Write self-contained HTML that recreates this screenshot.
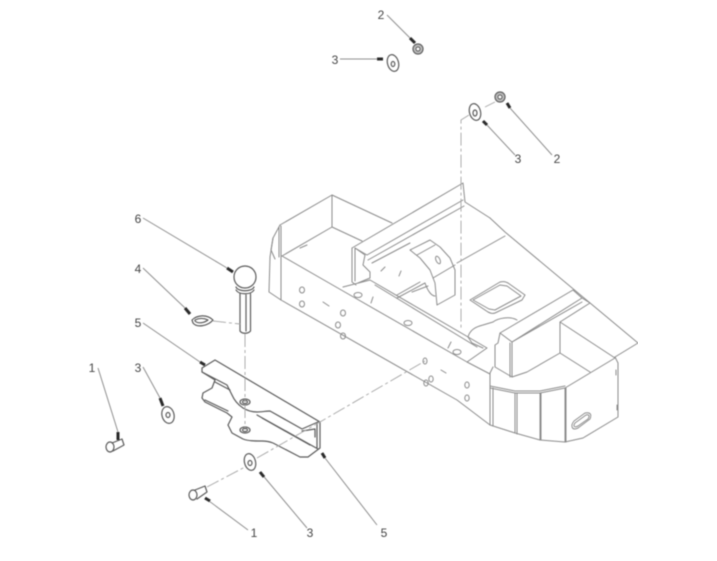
<!DOCTYPE html>
<html><head><meta charset="utf-8"><style>
html,body{margin:0;padding:0;background:#fff}
svg{display:block}
text{font-family:"Liberation Sans",sans-serif;font-size:12px;fill:#444;text-anchor:middle}
.a{fill:none;stroke:#8c8c8c;stroke-width:1;stroke-linejoin:round;stroke-linecap:round}
.b{fill:none;stroke:#5c5c5c;stroke-width:1.2;stroke-linejoin:round;stroke-linecap:round}
.l{fill:none;stroke:#8f8f8f;stroke-width:1}
.d{fill:none;stroke:#a5a5a5;stroke-width:.9;stroke-dasharray:13 3 3 3}
.h{stroke:#2c2c2c;stroke-width:3;fill:none}
</style></head><body>
<svg width="717" height="561" viewBox="0 0 717 561" xmlns="http://www.w3.org/2000/svg">
<defs><filter id="f" x="0" y="0" width="100%" height="100%"><feGaussianBlur stdDeviation=".45"/></filter></defs>
<rect width="717" height="561" fill="#fff"/>
<g filter="url(#f)">
<g class="a">
<!-- left box -->
<path d="M280 225L332 195L392 223"/>
<path d="M332 195V227M282 256L332 227L362 241"/>
<path d="M281 226V256M279 227V257"/>
<path d="M280 225L273 238L270 257L269 292L281 300V256"/>
<path d="M273 238L271 250L275 259"/>
<path d="M282 256L343 291L467 362L490 374"/>
<path d="M281 300L457 400L490 425"/>
<path d="M343 287L370 280L487 348L467 362"/>
<path d="M375 285L477 347"/>
<!-- channel -->
<path d="M352 248L463 183L465 202L490 218"/>
<path d="M355 248L367 255L463 200"/>
<path d="M368 260L464 206M372 263L410 243M457 263L505 236"/>
<path d="M397 295L420 282M397 298L425 283"/>
<path d="M352 248V282L356 285M355 248V281"/>
<path d="M355 248L365 255L363 265L370 272V278L358 283"/>
<!-- hump -->
<path d="M410 250L430 240L440 247L450 258L455 270V295L437 305L435 283L430 270L420 258Z"/>
<path d="M417 255L435 245M433 278L455 265"/>
<path d="M425 283C428 292 432 296 435 296M412 292L428 286"/>
<ellipse cx="438" cy="260" rx="2" ry="4" transform="rotate(-25 438 260)"/>
<!-- plate -->
<path d="M490 218L505 232L638 343L615 357"/>
<path d="M470 300L500 282C504 281 506 282 508 283L525 295L522 300L495 313C492 314 490 313 488 312Z"/>
<path d="M473 300L500 285L507 286L521 296L495 310L489 309Z"/>
<path d="M468 337C470 330 475 327 483 325L493 322C498 318 510 316 517 320"/>
<path d="M468 337L472 343L483 348"/>
<!-- ridge -->
<path d="M500 333L573 290L582 298L512 342Z"/>
<path d="M512 342L582 302"/>
<path d="M582 298L590 303L560 322"/>
<path d="M500 333L498 343L495 345V367L512 377V342"/>
<path d="M510 343V377"/>
<path d="M512 377L527 372L560 353L590 372"/>
<path d="M560 322V353"/>
<path d="M560 322L615 358"/>
<!-- front -->
<path d="M493 367L490 373V425"/>
<path d="M490 388L515 393H540L565 388L615 358"/>
<path d="M490 386L515 391H540L565 386"/>
<path d="M493 388V426M515 393V433M517 393V434M540 393V440M541 393V440M565 388V442M566 388V442"/>
<path d="M490 425L515 433L540 440L565 442L583 438L618 417V363L615 357"/>
<path d="M616 370V375M617 405V410"/>
<path d="M574 421L585 413C590 412 592 414 590 419L578 428C572 431 570 426 574 421Z"/>
<path d="M575 423L586 415C589 414 590 416 588 419L578 426C574 428 573 426 575 423Z"/>
<!-- holes -->
<ellipse cx="302" cy="290" rx="2.5" ry="3"/><ellipse cx="302" cy="304" rx="2.5" ry="3"/>
<ellipse cx="343" cy="313" rx="2.5" ry="3"/><ellipse cx="338" cy="325" rx="2.5" ry="3"/><ellipse cx="343" cy="336" rx="2.5" ry="3"/>
<path d="M323 302L329 306M441 370L446 373"/>
<ellipse cx="358" cy="295" rx="4" ry="2.5"/><ellipse cx="408" cy="323" rx="4" ry="2.5"/><ellipse cx="457" cy="352" rx="4" ry="2.5"/>
<path d="M371 303L373 297M448 348L451 342M381 271L385 267M399 276L401 271M300 248L307 245"/>
<ellipse cx="425" cy="361" rx="2" ry="3"/>
<ellipse cx="426" cy="383" rx="2.2" ry="3"/><ellipse cx="431" cy="379" rx="2.2" ry="3"/>
<ellipse cx="467" cy="385" rx="2.2" ry="3"/><ellipse cx="467" cy="398" rx="2.2" ry="3"/>
</g>
<!-- bracket -->
<g class="b">
<path d="M202 368L215 360L320 422V448L308 457H300L273 443C268 441 265 441 262 441C255 441 248 441 243 439L232 433L228 425L232 417L227 413L205 402L202 398L203 393L212 388L215 380L202 372Z"/>
<path d="M202 372L227 385L232 395C235 402 240 406 243 408C248 411 252 412 257 412C262 412 266 411 270 411L302 429L318 422"/>
<path d="M205 400L228 411M215 382L230 390"/>
<path d="M257 415L318 449M262 418L310 445M302 431L315 429V437M317 423V448"/>
<ellipse cx="245" cy="402" rx="5" ry="3"/><ellipse cx="245" cy="402" rx="2.5" ry="1.5"/>
<ellipse cx="245" cy="430" rx="5" ry="3"/><ellipse cx="245" cy="430" rx="2.5" ry="1.5"/>
<!-- ball pin -->
<circle cx="245" cy="277" r="11"/>
<path d="M236 287C238 292 252 292 254 287M236 290C239 295 251 295 254 290"/>
<path d="M240 294V331C242 334 248 334 250.500 331V294M246 295V331"/>
<!-- clip -->
<path d="M192 320C197 315 207 314 213 320C208 326 197 328 193 323Z"/>
<path d="M195 320C199 318 204 318 208 320C204 323 198 324 195 321Z"/>
<!-- washers -->
<ellipse cx="168" cy="415" rx="6" ry="8.500" transform="rotate(-15 168 415)"/><ellipse cx="168" cy="415" rx="2" ry="2.500"/>
<ellipse cx="250" cy="462" rx="5.500" ry="8.500" transform="rotate(-15 250 462)"/><ellipse cx="250" cy="463" rx="2" ry="2.500"/>
<ellipse cx="393" cy="63" rx="5.500" ry="8.500" transform="rotate(-15 393 63)"/><ellipse cx="393" cy="64" rx="1.800" ry="2.500"/>
<ellipse cx="475" cy="112" rx="5.500" ry="8.500" transform="rotate(-15 475 112)"/><ellipse cx="475" cy="113" rx="2" ry="3"/>
<!-- nuts -->
<circle cx="418" cy="49" r="5" fill="#bbb"/><circle cx="418" cy="49" r="2" fill="#fff"/>
<circle cx="500" cy="97" r="5" fill="#bbb"/><circle cx="500" cy="97" r="2" fill="#fff"/>
<!-- bolts -->
<ellipse cx="110" cy="447" rx="4" ry="5"/><path d="M112 443L122 439L124 445L113 451"/>
<ellipse cx="193" cy="495" rx="4" ry="5"/><path d="M195 490L205 486L207 492L197 499"/>
</g>
<!-- dashed -->
<path class="d" d="M469 115L461 120V330"/>
<path class="d" d="M485 107L495 102"/>
<path class="d" d="M213 321L240 324"/>
<path class="d" d="M245 334V402M245 405V428"/>
<path class="d" d="M207 487L245 467M257 458L320 422L425 361"/>
<!-- leaders -->
<path class="l" d="M387 15L410 38M340 59H377M515 155L487 125M552 155L510 108"/>
<path class="l" d="M143 218L227 268M143 268L185 308M143 323L200 362M98 368L118 432M143 367L160 398"/>
<path class="l" d="M248 530L205 498M307 528L260 472M377 525L325 458"/>
<!-- arrowheads -->
<path class="h" d="M227 268L233 272M185 308L190 314M200 362L205 365M118 432L118 440M160 398L163 406"/>
<path class="h" d="M410 38L415 43M377 59H383M487 125L483 121M510 108L507 103"/>
<path class="h" d="M210 501L205 498M264 477L260 472M325 458L322 453"/>
<text x="381" y="19">2</text>
<text x="335" y="64">3</text>
<text x="518" y="163">3</text>
<text x="557" y="163">2</text>
<text x="138" y="223">6</text>
<text x="138" y="273">4</text>
<text x="138" y="327">5</text>
<text x="92" y="372">1</text>
<text x="138" y="372">3</text>
<text x="254" y="537">1</text>
<text x="310" y="537">3</text>
<text x="384" y="537">5</text>
</g>
</svg>
</body></html>
